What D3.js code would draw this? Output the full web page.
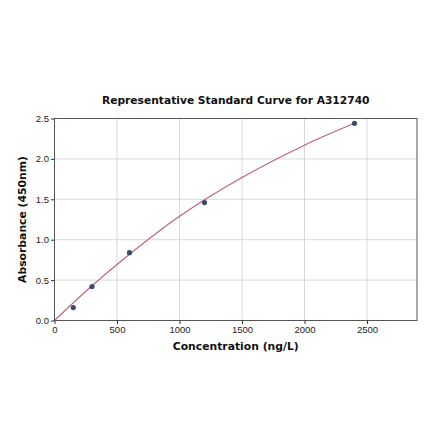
<!DOCTYPE html>
<html>
<head>
<meta charset="utf-8">
<script src="https://cdn.jsdelivr.net/npm/d3@7"></script>
<style>
  body { margin: 0; background: #fff; }
  svg { font-family: "DejaVu Sans", sans-serif; }
  .grid line { stroke: #cfcfcf; stroke-width: 0.8; }
  .axis path, .axis line { stroke: #333; }
  .axis text { fill: #222; font-size: 9.5px; }
</style>
</head>
<body>
<div id="chart"></div>
<script>
// standard points
const concentrations = [150, 300, 600, 1200, 2400];
const absorbances    = [0.16, 0.42, 0.84, 1.46, 2.44];

// fitted curve
const curveConc = [0, 300, 600, 1000, 1500, 2000, 2400];
const curveAbs  = [0, 0.43, 0.82, 1.29, 1.77, 2.17, 2.44];

const xTicks = [0, 500, 1000, 1500, 2000, 2500];
const yTicks = [0, 0.5, 1.0, 1.5, 2.0, 2.5];

const width = 440, height = 441;
const margin = { top: 118.5, right: 23, bottom: 120.5, left: 54.5 };

const svg = d3.select('#chart').append('svg')
  .attr('width', width)
  .attr('height', height);

const x = d3.scaleLinear()
  .domain([0, 2900])
  .range([margin.left, width - margin.right]);
const y = d3.scaleLinear()
  .domain([0, 2.5])
  .range([height - margin.bottom, margin.top]);

// gridlines
svg.append('g')
  .attr('class', 'grid')
  .selectAll('line.v')
  .data(xTicks.slice(1))
  .join('line')
    .attr('x1', d => x(d)).attr('x2', d => x(d))
    .attr('y1', y(0)).attr('y2', y(2.5));

svg.append('g')
  .attr('class', 'grid')
  .selectAll('line.h')
  .data(yTicks.slice(1))
  .join('line')
    .attr('x1', x(0)).attr('x2', x(2900))
    .attr('y1', d => y(d)).attr('y2', d => y(d));

// curve
const line = d3.line()
  .x((d, i) => x(curveConc[i]))
  .y(d => y(d))
  .curve(d3.curveCatmullRom.alpha(0.5));

svg.append('path')
  .datum(curveAbs)
  .attr('fill', 'none')
  .attr('stroke', '#b9607f')
  .attr('stroke-width', 1.1)
  .attr('d', line);

// points
svg.append('g')
  .selectAll('circle')
  .data(concentrations)
  .join('circle')
    .attr('cx', d => x(d))
    .attr('cy', (d, i) => y(absorbances[i]))
    .attr('r', 2.6)
    .attr('fill', '#3b4a6c');

// frame
svg.append('rect')
  .attr('x', x(0))
  .attr('y', y(2.5))
  .attr('width', x(2900) - x(0))
  .attr('height', y(0) - y(2.5))
  .attr('fill', 'none')
  .attr('stroke', '#555')
  .attr('stroke-width', 1);

// axes
svg.append('g')
  .attr('class', 'axis')
  .attr('transform', `translate(0,${y(0)})`)
  .call(d3.axisBottom(x).tickValues(xTicks).tickSize(3.5).tickPadding(2).tickFormat(d3.format('d')))
  .call(g => g.select('.domain').remove());

svg.append('g')
  .attr('class', 'axis')
  .attr('transform', `translate(${x(0)},0)`)
  .call(d3.axisLeft(y).tickValues(yTicks).tickSize(3.5).tickPadding(2).tickFormat(d3.format('.1f')))
  .call(g => g.select('.domain').remove());

// title and labels
svg.append('text')
  .attr('x', (x(0) + x(2900)) / 2)
  .attr('y', 104)
  .attr('text-anchor', 'middle')
  .attr('font-weight', 'bold')
  .attr('font-size', '10.7px')
  .attr('fill', '#111')
  .text('Representative Standard Curve for A312740');

svg.append('text')
  .attr('x', (x(0) + x(2900)) / 2)
  .attr('y', 350)
  .attr('text-anchor', 'middle')
  .attr('font-weight', 'bold')
  .attr('font-size', '10.8px')
  .attr('fill', '#111')
  .text('Concentration (ng/L)');

svg.append('text')
  .attr('transform', `translate(26,${(y(0) + y(2.5)) / 2}) rotate(-90)`)
  .attr('text-anchor', 'middle')
  .attr('font-weight', 'bold')
  .attr('font-size', '10.8px')
  .attr('fill', '#111')
  .text('Absorbance (450nm)');
</script>
</body>
</html>
